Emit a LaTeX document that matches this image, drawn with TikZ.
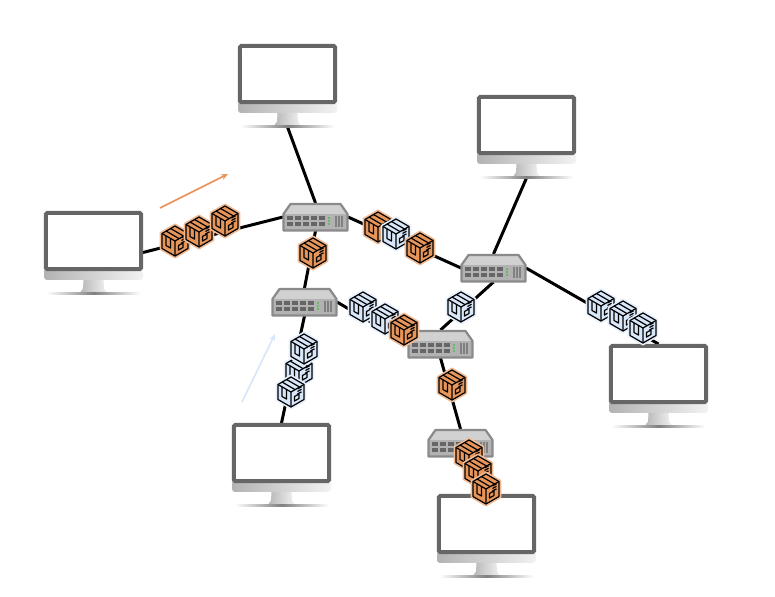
\documentclass[tikz,border=0pt]{standalone}
\definecolor{pkgorange}{HTML}{E8955A}
\definecolor{pkgblue}{HTML}{D9E7FA}
\definecolor{framegray}{HTML}{666666}
\definecolor{switchgray}{HTML}{8A8A8A}
\definecolor{portgray}{HTML}{666666}
\tikzset{
  pcbox/.style={inner sep=0pt,outer sep=0pt,minimum width=1.98cm,minimum height=1.66cm},
  switchbox/.style={inner sep=0pt,outer sep=0pt,minimum width=1.3cm,minimum height=0.56cm},
  link/.style={line width=0.06cm},
  flow/.style={line width=0.035cm,-{Stealth[length=0.14cm,width=0.12cm]}},
  monitor/.pic={
    \shade[left color=black!30,right color=black!5,rounded corners=0.06cm]
      (-49.5,15) rectangle (49.5,27.5);
    \draw[framegray,line width=0.08cm,fill=white,rounded corners=0.03cm]
      (-47.7,-39.5) rectangle (47.7,16.7);
    \shade[left color=black!28,right color=black!6]
      (-10,27.5) -- (10,27.5) -- (10.5,36) -- (13,39.5) -- (-13,39.5) -- (-10.5,36) -- cycle;
    \shade[left color=white,right color=white,middle color=black!50]
      (-47,40) rectangle (47,42);
  },
  switchpic/.pic={
    \fill[black!18] (-32,-3) -- (-25,-13) -- (25,-13) -- (32,-3) -- cycle;
    \fill[black!30] (-32,-3) rectangle (32,13.5);
    \draw[switchgray,line width=0.045cm,line join=round]
      (-32,-3) -- (-25,-13) -- (25,-13) -- (32,-3) -- (32,13.5) -- (-32,13.5) -- cycle;
    \foreach \px in {-28.8,-20.5,-12.4,-4.6,3.6} {
      \fill[portgray] (\px,-0.5) rectangle ++(6,4);
      \fill[portgray] (\px,5.5) rectangle ++(6,4);
    }
    \foreach \ly in {0.5,3.5,6.5} \fill[black!45!green!60!white] (12.4,\ly) rectangle ++(1.6,1.3);
    \foreach \vx in {19.5,21,22.5,24,25.5,27} \draw[black!50,line width=0.018cm] (\vx,-1.3) -- (\vx,9.8);
  },
  pkg/.pic={
    \draw[line width=0.04cm,draw=#1!65!white,fill=#1,line join=round]
      (0,-16.5) -- (14.3,-8.2) -- (14.3,8.2) -- (0,16.5) -- (-14.3,8.2) -- (-14.3,-8.2) -- cycle;
    \begin{scope}[line width=0.024cm,line join=round,draw=black]
      \draw (0,-15) -- (13,-7.5) -- (13,7.5) -- (0,15) -- (-13,7.5) -- (-13,-7.5) -- cycle;
      \draw (-13,-7.5) -- (0,0) -- (13,-7.5) (0,0) -- (0,15);
      \draw (-9,-10) -- (4,-2.4) (-4.5,-12.5) -- (8.5,-5);
      \draw (-9,-5.3) -- (-9,4.5) -- (-4.5,7) -- (-4.5,-2.6);
      \draw (3.5,4.5) -- (8,2) -- (8,6.5) -- (3.5,9) -- cycle;
      \foreach \ly in {-3,-0.5,2} \draw (6.5,\ly) -- (10.5,\ly-2.2);
    \end{scope}
  },
}
\usetikzlibrary{arrows.meta}
\begin{document}
\begin{tikzpicture}[x=0.02cm,y=-0.02cm]
  \useasboundingbox (0,0) rectangle (775,597);
  % monitors and switches
  \foreach \name/\x/\y in {pcTop/287.5/85.5,pcRight/526.5/136.5,pcLeft/93.5/252.5,pcFar/658.5/385.5,pcLow/281.5/464.5,pcEnd/486.5/535.5}
    \node[pcbox] (\name) at (\x,\y) {};
  \foreach \name/\x/\y in {swA/315.5/217,swB/493.5/268,swC/304.5/302,swD/440.5/344,swE/460.5/443}
    \node[switchbox] (\name) at (\x,\y) {};
  % links
  \foreach \a/\b in {pcTop.south/swA.north,pcLeft.east/swA.west,swA.east/swB.west,swA.south/swC.north,pcRight.south/swB.north,swB.east/pcFar.north,swB.south/swD.north,swC.east/swD.west,swC.south/pcLow.north,swD.south/swE.north,swE.south/pcEnd.north}
    \draw[link] (\a) -- (\b);
  \foreach \name in {pcTop,pcRight,pcLeft,pcFar,pcLow,pcEnd}
    \pic at (\name) {monitor};
  \foreach \name in {swA,swB,swC,swD,swE}
    \pic at (\name) {switchpic};
  % flow arrows
  \coordinate (orangeFrom) at (160,208);
  \coordinate (orangeTo) at (228,174);
  \coordinate (blueFrom) at (242,402);
  \coordinate (blueTo) at (275,334);
  \draw[flow,draw=pkgorange] (orangeFrom) -- (orangeTo);
  \draw[flow,draw=pkgblue] (blueFrom) -- (blueTo);
  % packets
  \foreach \kind/\x/\y in {pkgorange/175/241,pkgorange/199/232,pkgorange/225/221,pkgorange/313/253,
    pkgorange/378/227,pkgblue/396/234,pkgorange/420/248,pkgblue/461/307,
    pkgblue/601/306,pkgblue/623/316,pkgblue/643/328,
    pkgblue/363/307,pkgblue/385/319,pkgorange/404/330,pkgorange/452/385,
    pkgblue/299/371,pkgblue/291/392,pkgblue/304/349,
    pkgorange/469/455,pkgorange/478/471,pkgorange/486/489}
    \pic at (\x,\y) {pkg=\kind};
\end{tikzpicture}
\end{document}
